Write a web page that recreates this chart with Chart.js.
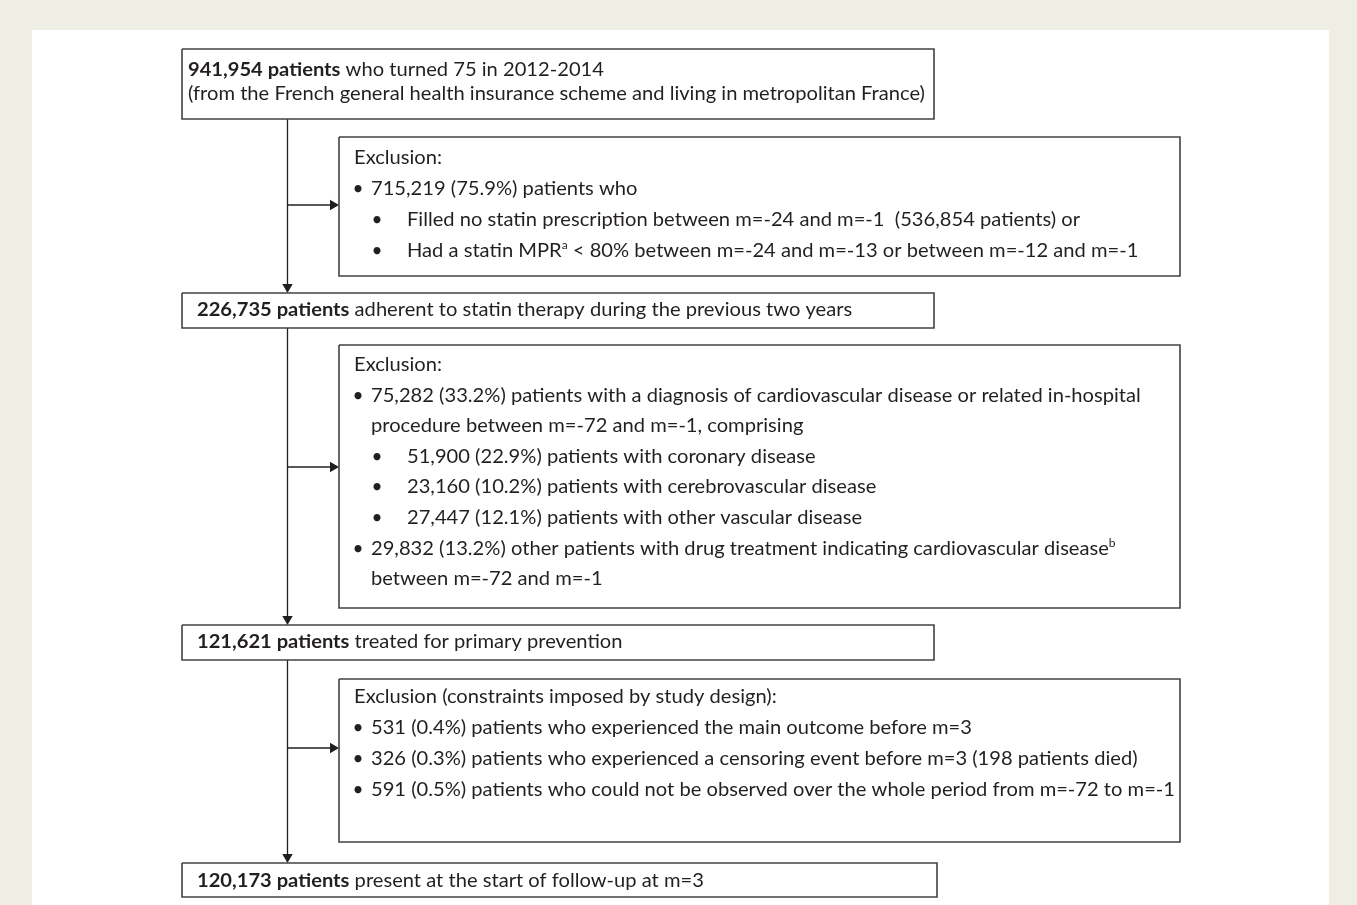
<!DOCTYPE html>
<html>
<head>
<meta charset="utf-8">
<script src="https://cdn.jsdelivr.net/npm/chart.js@4.4.0/dist/chart.umd.min.js"></script>
<style>
  html, body { margin: 0; padding: 0; background: #efeee5; }
  canvas { display: block; }
</style>
</head>
<body>
<canvas id="flow" width="1357" height="905"></canvas>
<script>
// flow chart text, ** = bold, ^x = superscript
const stepTexts = [
  ["**941,954 patients** who turned 75 in 2012-2014",
   "(from the French general health insurance scheme and living in metropolitan France)"],
  ["**226,735 patients** adherent to statin therapy during the previous two years"],
  ["**121,621 patients** treated for primary prevention"],
  ["**120,173 patients** present at the start of follow-up at m=3"],
];

// level: 0 title, 1 bullet, 2 sub bullet, 3 continuation of a bullet
const exclusion1 = [
  [0, "Exclusion:"],
  [1, "715,219 (75.9%) patients who"],
  [2, "Filled no statin prescription between m=-24 and m=-1  (536,854 patients) or"],
  [2, "Had a statin MPR^a < 80% between m=-24 and m=-13 or between m=-12 and m=-1"],
];
const exclusion2 = [
  [0, "Exclusion:"],
  [1, "75,282 (33.2%) patients with a diagnosis of cardiovascular disease or related in-hospital"],
  [3, "procedure between m=-72 and m=-1, comprising"],
  [2, "51,900 (22.9%) patients with coronary disease"],
  [2, "23,160 (10.2%) patients with cerebrovascular disease"],
  [2, "27,447 (12.1%) patients with other vascular disease"],
  [1, "29,832 (13.2%) other patients with drug treatment indicating cardiovascular disease^b"],
  [3, "between m=-72 and m=-1"],
];
const exclusion3 = [
  [0, "Exclusion (constraints imposed by study design):"],
  [1, "531 (0.4%) patients who experienced the main outcome before m=3"],
  [1, "326 (0.3%) patients who experienced a censoring event before m=3 (198 patients died)"],
  [1, "591 (0.5%) patients who could not be observed over the whole period from m=-72 to m=-1"],
];
const exclusionTexts = [exclusion1, exclusion2, exclusion3];

// layout (canvas units)
const W = 1357, H = 905;
const panel = { x0: 32, x1: 1329, y0: 30, y1: 905 };
const stepBoxes = [
  { x0: 182, x1: 934, y0: 49, y1: 119, tx: 188, base: [76, 100] },
  { x0: 182, x1: 934, y0: 293, y1: 328, tx: 197, base: [316] },
  { x0: 182, x1: 934, y0: 625, y1: 660, tx: 197, base: [648] },
  { x0: 182, x1: 937, y0: 863, y1: 897, tx: 197, base: [887] },
];
const exclBoxes = [
  { x0: 339, x1: 1180, y0: 137, y1: 276, base: 164, gap: 31, arrowY: 205 },
  { x0: 339, x1: 1180, y0: 345, y1: 608, base: 371, gap: 30.6, arrowY: 467 },
  { x0: 339, x1: 1180, y0: 679, y1: 842, base: 703, gap: 31, arrowY: 748 },
];
const trunkX = 287.5;
const indent = { title: 354, bullet: 358, text: 371, subBullet: 377, subText: 407 };
const headR = 6;
const ink = "#231f20";
const FONT = "Lato, 'Open Sans', sans-serif";
const fontSize = 19;

// squeeze the glyphs so the reference line keeps its width
const mctx = document.createElement("canvas").getContext("2d");
mctx.font = fontSize + "px " + FONT;
const squeeze = 737 / mctx.measureText(stepTexts[0][1]).width;

const rect = (b) => [
  { x: b.x0, y: b.y0 }, { x: b.x1, y: b.y0 }, { x: b.x1, y: b.y1 },
  { x: b.x0, y: b.y1 }, { x: b.x0, y: b.y0 },
];

const datasets = [];
[...stepBoxes, ...exclBoxes].forEach((b) => {
  datasets.push({ data: rect(b), showLine: true, borderColor: "#434343", borderWidth: 1.6, pointRadius: 0 });
});
for (let i = 0; i < 3; i++) {
  datasets.push({
    data: [{ x: trunkX, y: stepBoxes[i].y1 }, { x: trunkX, y: stepBoxes[i + 1].y0 - headR }],
    showLine: true, borderColor: ink, borderWidth: 1.3, pointRadius: 0,
  });
  datasets.push({
    data: [{ x: trunkX, y: exclBoxes[i].arrowY }, { x: exclBoxes[i].x0 - headR, y: exclBoxes[i].arrowY }],
    showLine: true, borderColor: ink, borderWidth: 1.3, pointRadius: 0,
  });
}
datasets.push({
  data: stepBoxes.slice(1).map((b) => ({ x: trunkX, y: b.y0 - headR })),
  pointStyle: "triangle", rotation: 180, pointRadius: headR,
  backgroundColor: ink, borderColor: ink, borderWidth: 0,
});
datasets.push({
  data: exclBoxes.map((b) => ({ x: b.x0 - headR, y: b.arrowY })),
  pointStyle: "triangle", rotation: 90, pointRadius: headR,
  backgroundColor: ink, borderColor: ink, borderWidth: 0,
});

const put = (ctx, t, x, y) => {
  ctx.save();
  ctx.translate(x, y);
  ctx.scale(squeeze, 1);
  ctx.fillText(t, 0, 0);
  ctx.restore();
  return ctx.measureText(t).width * squeeze;
};

const drawRich = (ctx, str, x, y) => {
  const parts = str.split(/(\*\*.+?\*\*|\^[a-z])/).filter(Boolean);
  parts.forEach((p) => {
    let t = p, yy = y;
    if (p.startsWith("**")) {
      t = p.slice(2, -2);
      ctx.font = "bold " + fontSize + "px " + FONT;
    } else if (p.startsWith("^")) {
      t = p.slice(1);
      ctx.font = (fontSize * 0.6) + "px " + FONT;
      yy = y - fontSize * 0.4;
    } else {
      ctx.font = fontSize + "px " + FONT;
    }
    x += put(ctx, t, x, yy);
  });
};

const bullet = (ctx, cx, y) => {
  ctx.font = fontSize + "px " + FONT;
  const w = ctx.measureText("\u2022").width;
  ctx.fillText("\u2022", cx - w / 2, y);
};

const backgroundPlugin = {
  id: "panel",
  beforeDraw(chart) {
    const { ctx, scales: { x, y } } = chart;
    ctx.save();
    ctx.fillStyle = "#efeee5";
    ctx.fillRect(0, 0, chart.width, chart.height);
    ctx.fillStyle = "#ffffff";
    ctx.fillRect(x.getPixelForValue(panel.x0), y.getPixelForValue(panel.y0),
      x.getPixelForValue(panel.x1) - x.getPixelForValue(panel.x0),
      y.getPixelForValue(panel.y1) - y.getPixelForValue(panel.y0));
    ctx.restore();
  },
};

const textPlugin = {
  id: "flowText",
  afterDatasetsDraw(chart) {
    const { ctx, scales: { x, y } } = chart;
    ctx.save();
    ctx.fillStyle = ink;
    ctx.textBaseline = "alphabetic";
    stepBoxes.forEach((b, i) => {
      stepTexts[i].forEach((line, j) => {
        drawRich(ctx, line, x.getPixelForValue(b.tx), y.getPixelForValue(b.base[j]));
      });
    });
    exclBoxes.forEach((b, i) => {
      exclusionTexts[i].forEach(([lvl, line], j) => {
        const py = y.getPixelForValue(b.base + j * b.gap);
        if (lvl === 0) {
          drawRich(ctx, line, x.getPixelForValue(indent.title), py);
        } else if (lvl === 1) {
          bullet(ctx, x.getPixelForValue(indent.bullet), py);
          drawRich(ctx, line, x.getPixelForValue(indent.text), py);
        } else if (lvl === 2) {
          bullet(ctx, x.getPixelForValue(indent.subBullet), py);
          drawRich(ctx, line, x.getPixelForValue(indent.subText), py);
        } else {
          drawRich(ctx, line, x.getPixelForValue(indent.text), py);
        }
      });
    });
    ctx.restore();
  },
};

new Chart(document.getElementById("flow").getContext("2d"), {
  type: "scatter",
  data: { datasets },
  options: {
    responsive: false,
    animation: false,
    devicePixelRatio: 1,
    layout: { padding: 0, autoPadding: false },
    scales: {
      x: { type: "linear", min: 0, max: W, display: false },
      y: { type: "linear", min: 0, max: H, reverse: true, display: false },
    },
    plugins: { legend: { display: false }, tooltip: { enabled: false } },
    elements: { line: { tension: 0 } },
  },
  plugins: [backgroundPlugin, textPlugin],
});
</script>
</body>
</html>
